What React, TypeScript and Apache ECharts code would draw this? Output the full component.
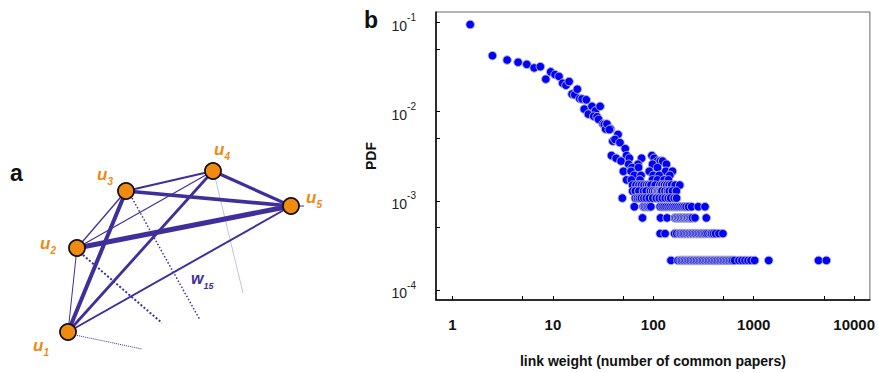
import React, { useEffect, useRef } from "react";
import * as echarts from "echarts";

// ---------- axis ticks ----------
const xLabelValues = [1, 10, 100, 1000, 10000];
const xTickValues = [1, 5, 10, 50, 100, 500, 1000, 5000, 10000];
const yLabelValues = [1e-4, 1e-3, 1e-2, 1e-1];
const yTickValues = [1e-4, 5e-4, 1e-3, 5e-3, 1e-2, 5e-2, 1e-1];

// ---------- head of the distribution (weight, PDF) ----------
const headWeights = [1.5, 2.5, 3.5, 4.5, 5.5, 6.5, 7.5, 8.5, 9.5, 10.5, 11.5, 12.5, 13.5, 14.5, 15.5, 16.5, 17.5, 18.5, 19.5, 21.5, 20.5, 22.5, 24.5, 26.5, 29.5, 25.5, 27.5, 28.5, 31.5, 32.5, 33.5, 34.5, 37.5, 44.5, 39.5, 41.5, 46.5, 52.5, 36.5];
const headPdf = [0.095, 0.0425, 0.038, 0.0359, 0.034, 0.031, 0.032, 0.0232, 0.028, 0.0261, 0.0249, 0.0209, 0.0198, 0.0218, 0.0158, 0.0155, 0.0179, 0.014, 0.0139, 0.0136, 0.0107, 0.0094, 0.0115, 0.0102, 0.0115, 0.0089, 0.0088, 0.0082, 0.0073, 0.0072, 0.0064, 0.0073, 0.0064, 0.00556, 0.00468, 0.00489, 0.0045, 0.00385, 0.0063];

// ---------- tail: weights found at each PDF level ----------
const levelPdf = [2.15e-4, 4.3e-4, 6.45e-4, 8.6e-4, 1.075e-3, 1.29e-3, 1.505e-3, 1.72e-3, 1.935e-3, 2.15e-3, 2.365e-3, 2.58e-3, 2.795e-3, 3.01e-3, 3.225e-3];
const level1 = [150, 176, 185, 191, 198, 205, 212, 220, 227, 235, 244, 252, 261, 270, 280, 290, 300, 310, 321, 333, 344, 356, 369, 382, 395, 409, 423, 438, 454, 470, 486, 503, 521, 539, 558, 578, 598, 619, 645, 711, 762, 817, 876, 939, 1020, 1410, 4420, 5290];
const level2 = [117, 131, 163, 171, 181, 187, 194, 200, 207, 215, 222, 230, 238, 246, 255, 264, 273, 283, 293, 303, 314, 325, 336, 350, 368, 381, 397, 417, 450, 493];
const level3 = [78, 118, 137, 163, 168, 174, 180, 186, 193, 200, 207, 214, 221, 229, 237, 245, 260, 337];
const level4 = [64.7, 79.5, 82, 85, 88, 91, 94.5, 117, 122.6, 128, 134, 140.5, 147, 154, 161, 168.5, 176.4, 184.8, 193.5, 202.5, 212, 224, 240.6, 280, 327];
const level5 = [49.1, 66.1, 69.3, 72.5, 75.9, 80.4, 85.1, 91.1, 98.6, 106.8, 114.4, 122.6, 131.3, 140.5, 148.6, 161, 170.4];
const level6 = [62.2, 66.1, 71.9, 79.8, 84.8, 93.5, 98.4, 103, 107.8, 111, 114.4, 118, 121.6, 130.4, 138.3, 143.8, 154.6, 169.6];
const level7 = [62.2, 67.2, 72, 76, 80.7, 85.6, 90, 94.7, 104.4, 116.2, 122, 129.1, 136, 143.8, 152, 164.9, 183.5];
const level8 = [54.2, 60.4, 73.6, 98, 110, 128, 141.5];
const level9 = [64.7, 75.4, 99.8, 114.4, 146];
const level10 = [50.3, 60, 91.1, 133, 155];
const level11 = [61.4, 71.3, 110];
const level12 = [56.8, 70.3, 98.2, 135];
const level13 = [47.7, 110, 117, 124];
const level14 = [42.6, 57.7, 76.4, 102];
const level15 = [38.3, 54.2, 96.9];
const levels = [level1, level2, level3, level4, level5, level6, level7, level8, level9, level10, level11, level12, level13, level14, level15];

// ---------- panel a: illustrative network ----------
const nodeNames = ["1", "2", "3", "4", "5"];
const FONT = "'Liberation Sans', Arial, Helvetica, sans-serif";

export default function App() {
  const ref = useRef<HTMLDivElement>(null);

  useEffect(() => {
    if (!ref.current) return;
    const chart = echarts.init(ref.current, undefined, { renderer: "svg" });

    const data: number[][] = [];
    headWeights.forEach((w, i) => data.push([w, headPdf[i]]));
    levels.slice().reverse().forEach((row, ri) => {
      const p = levelPdf[levels.length - 1 - ri];
      row.forEach((w) => data.push([w, p]));
    });

    const nodePos: Record<string, number[]> = {
      "1": [68, 332],
      "2": [77, 248],
      "3": [126, 191],
      "4": [213, 171],
      "5": [291, 206],
    };
    const edges: [string, string, number][] = [
      ["1", "2", 1],
      ["1", "3", 4],
      ["1", "4", 2.8],
      ["1", "5", 2],
      ["2", "3", 1.3],
      ["2", "4", 1.2],
      ["2", "5", 5],
      ["3", "4", 2],
      ["3", "5", 3.6],
      ["4", "5", 3.2],
    ];
    const edgeColor = "#3f2f9c";
    const orange = "#f08a10";

    const graphics: any[] = [];
    graphics.push(
      { type: "line", shape: { x1: 215, y1: 177, x2: 243, y2: 293 }, style: { stroke: "#c4c0e2", lineWidth: 1 } },
      { type: "line", shape: { x1: 83, y1: 255, x2: 162, y2: 323 }, style: { stroke: edgeColor, lineWidth: 2, lineDash: [2, 2] } },
      { type: "line", shape: { x1: 132, y1: 198, x2: 200, y2: 320 }, style: { stroke: edgeColor, lineWidth: 1.5, lineDash: [1.5, 2] } },
      { type: "line", shape: { x1: 75, y1: 335, x2: 142, y2: 349 }, style: { stroke: edgeColor, lineWidth: 1, lineDash: [1, 1] } },
      { type: "line", shape: { x1: 298, y1: 206, x2: 304, y2: 206 }, style: { stroke: edgeColor, lineWidth: 1 } }
    );
    edges.forEach(([a, b, w]) => {
      const pa = nodePos[a];
      const pb = nodePos[b];
      graphics.push({
        type: "line",
        shape: { x1: pa[0], y1: pa[1], x2: pb[0], y2: pb[1] },
        style: { stroke: edgeColor, lineWidth: w },
      });
    });
    nodeNames.forEach((n) => {
      const p = nodePos[n];
      graphics.push({
        type: "circle",
        shape: { cx: p[0], cy: p[1], r: 8 },
        style: { fill: orange, stroke: "#111", lineWidth: 1.8 },
        z: 10,
      });
    });
    const labelPos: Record<string, number[]> = {
      "1": [33, 347],
      "2": [40, 245],
      "3": [97, 176],
      "4": [214, 151],
      "5": [306, 199],
    };
    nodeNames.forEach((n) => {
      const p = labelPos[n];
      graphics.push({
        type: "text",
        x: p[0],
        y: p[1],
        style: {
          text: `{u|u}{s|${n}}`,
          verticalAlign: "middle",
          rich: {
            u: { fontSize: 17, fontWeight: "bold", fontStyle: "italic", fill: orange, fontFamily: FONT, lineHeight: 20, verticalAlign: "top" },
            s: { fontSize: 10, fontWeight: "bold", fontStyle: "italic", fill: orange, fontFamily: FONT, lineHeight: 20, verticalAlign: "bottom" },
          },
        },
        z: 10,
      });
    });
    graphics.push({
      type: "text",
      x: 191,
      y: 280,
      style: {
        text: "{u|w}{s|15}",
        verticalAlign: "middle",
        rich: {
          u: { fontSize: 16, fontWeight: "bold", fontStyle: "italic", fill: edgeColor, fontFamily: FONT, lineHeight: 20, verticalAlign: "top" },
          s: { fontSize: 9, fontWeight: "bold", fontStyle: "italic", fill: edgeColor, fontFamily: FONT, lineHeight: 20, verticalAlign: "bottom" },
        },
      },
      z: 10,
    });
    graphics.push(
      { type: "text", x: 10, y: 173, style: { text: "a", fontSize: 23, fontWeight: "bold", fontFamily: FONT, fill: "#111", verticalAlign: "middle" } },
      { type: "text", x: 364, y: 20, style: { text: "b", fontSize: 23, fontWeight: "bold", fontFamily: FONT, fill: "#111", verticalAlign: "middle" } }
    );

    chart.setOption({
      animation: false,
      backgroundColor: "#fff",
      textStyle: { fontFamily: FONT },
      grid: { left: 436, top: 12, right: 6, bottom: 71, show: true, borderColor: "#666", borderWidth: 1 },
      xAxis: {
        type: "log",
        logBase: 10,
        min: 0.685,
        max: 14350,
        name: "link weight (number of common papers)",
        nameLocation: "middle",
        nameGap: 54,
        nameTextStyle: { fontWeight: "bold", fontSize: 14, color: "#111", fontFamily: FONT },
        axisLine: { show: true, lineStyle: { color: "#000", width: 1.5 } },
        axisTick: { show: true, inside: true, length: 4, customValues: xTickValues, lineStyle: { color: "#000", width: 1 } },
        axisLabel: {
          customValues: xLabelValues,
          formatter: (v: number) => String(Math.round(v)),
          fontWeight: "bold",
          fontSize: 15,
          color: "#111",
          margin: 17,
          fontFamily: FONT,
        },
        splitLine: { show: false },
      },
      yAxis: {
        type: "log",
        logBase: 10,
        min: 7.74e-5,
        max: 0.1313,
        name: "PDF",
        nameLocation: "middle",
        nameGap: 58,
        nameRotate: 90,
        nameTextStyle: { fontWeight: "bold", fontSize: 14, color: "#111", fontFamily: FONT },
        axisLine: { show: true, lineStyle: { color: "#000", width: 1.5 } },
        axisTick: { show: true, inside: true, length: 4, customValues: yTickValues, lineStyle: { color: "#000", width: 1 } },
        axisLabel: {
          customValues: yLabelValues,
          margin: 20,
          formatter: (v: number) => `{b|10}{s|${Math.round(Math.log10(v))}}`,
          rich: {
            b: { fontSize: 14, color: "#222", fontFamily: FONT, lineHeight: 20, verticalAlign: "bottom" },
            s: { fontSize: 10, color: "#222", fontFamily: FONT, lineHeight: 20, verticalAlign: "top" },
          },
        },
        splitLine: { show: false },
      },
      series: [
        {
          type: "scatter",
          data,
          symbol: "circle",
          symbolSize: 8.5,
          itemStyle: { color: "#0000ff", borderColor: "#b2b2c4", borderWidth: 1, opacity: 1 },
          emphasis: { disabled: true },
        },
      ],
      graphic: { elements: graphics },
    });

    return () => chart.dispose();
  }, []);

  return (
    <div
      ref={ref}
      style={{ position: "fixed", left: 0, top: 0, width: 878, height: 373, background: "#fff" }}
    />
  );
}
